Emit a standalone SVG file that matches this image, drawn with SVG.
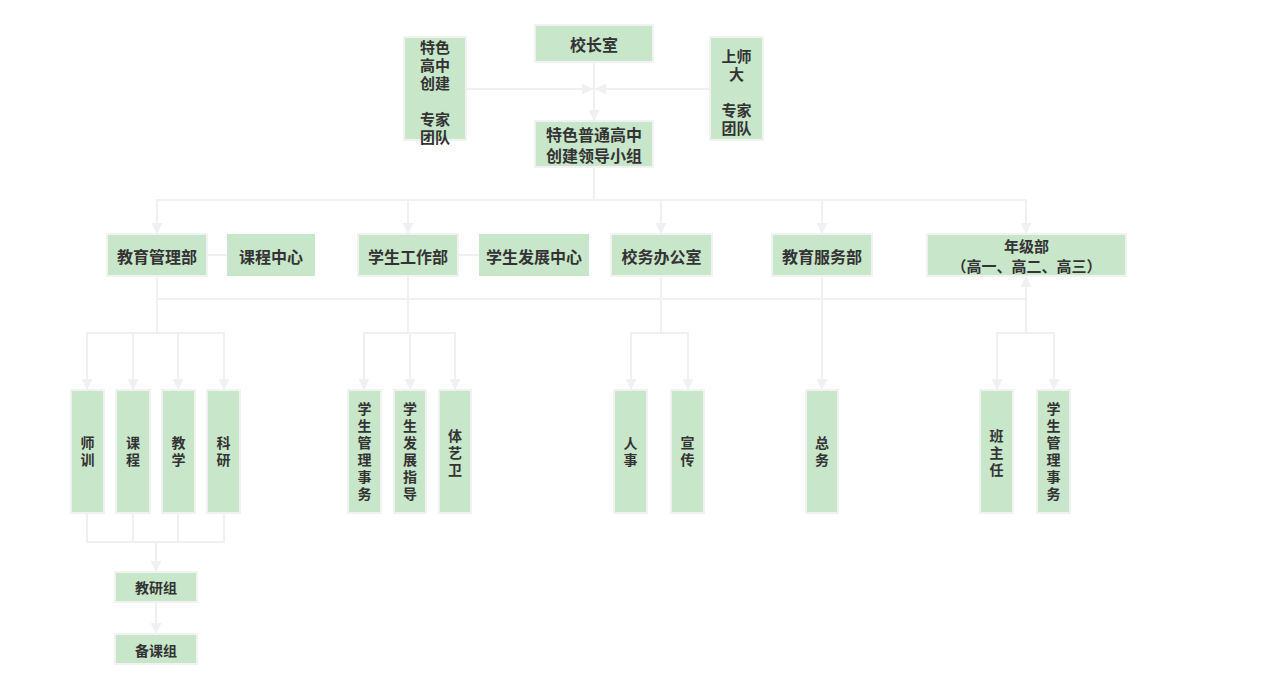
<svg xmlns="http://www.w3.org/2000/svg" width="1288" height="689" viewBox="0 0 1288 689">
<style>
.n{fill:#c8e6c9;stroke:#f2f2f2;stroke-width:2}
.t{font-family:"Noto Sans CJK SC","Noto Sans",sans-serif;font-weight:bold;fill:#333;text-anchor:middle;dominant-baseline:central}
.v{writing-mode:vertical-rl;letter-spacing:3px}
.t16{font-size:16px}
.t15{font-size:15px}
.t14{font-size:14px}
.c{fill:none;stroke:#f0f0f0;stroke-width:2}
</style>
<defs>
<marker id="a" viewBox="0 0 10 10" refX="10" refY="5" markerWidth="5.5" markerHeight="5.5" orient="auto" markerUnits="strokeWidth">
<path d="M0,0 L10,5 L0,10 z" fill="#f0f0f0"/>
</marker>
</defs>
<rect width="1288" height="689" fill="#ffffff"/>
<g id="connectors">
<path class="c" d="M466,89 H593" marker-end="url(#a)"/>
<path class="c" d="M710,89 H595" marker-end="url(#a)"/>
<path class="c" d="M594,62 V121" marker-end="url(#a)"/>
<path class="c" d="M594,167 V200 H157 V234" marker-end="url(#a)"/>
<path class="c" d="M408,200 V234" marker-end="url(#a)"/>
<path class="c" d="M594,200 H661 V234" marker-end="url(#a)"/>
<path class="c" d="M661,200 H822 V234" marker-end="url(#a)"/>
<path class="c" d="M822,200 H1026 V234" marker-end="url(#a)"/>
<path class="c" d="M207,255 H227"/>
<path class="c" d="M458,255 H479"/>
<path class="c" d="M157,299 H1026"/>
<path class="c" d="M1026,333 V276" marker-end="url(#a)"/>
<path class="c" d="M157,276 V333 H87 V390" marker-end="url(#a)"/>
<path class="c" d="M133,333 V390" marker-end="url(#a)"/>
<path class="c" d="M157,333 H178 V390" marker-end="url(#a)"/>
<path class="c" d="M178,333 H224 V390" marker-end="url(#a)"/>
<path class="c" d="M408,276 V333 H364 V390" marker-end="url(#a)"/>
<path class="c" d="M408,333 H410 V390" marker-end="url(#a)"/>
<path class="c" d="M410,333 H455 V390" marker-end="url(#a)"/>
<path class="c" d="M661,276 V333 H631 V390" marker-end="url(#a)"/>
<path class="c" d="M661,333 H688 V390" marker-end="url(#a)"/>
<path class="c" d="M822,276 V390" marker-end="url(#a)"/>
<path class="c" d="M1026,333 H997 V390" marker-end="url(#a)"/>
<path class="c" d="M1026,333 H1054 V390" marker-end="url(#a)"/>
<path class="c" d="M87,513 V542 H224 V513"/>
<path class="c" d="M133,513 V542"/>
<path class="c" d="M178,513 V542"/>
<path class="c" d="M156,542 V572" marker-end="url(#a)"/>
<path class="c" d="M156,602 V634" marker-end="url(#a)"/>
</g>
<g id="n-principal"><rect class="n" x="535" y="25" width="118" height="37"/><text class="t t16" x="594" y="44">校长室</text></g>
<g id="n-expert1"><rect class="n" x="404" y="37" width="62" height="103"/>
<text class="t t15"><tspan x="435" y="46">特色</tspan><tspan x="435" y="64">高中</tspan><tspan x="435" y="82">创建</tspan><tspan x="435" y="118">专家</tspan><tspan x="435" y="136">团队</tspan></text></g>
<g id="n-expert2"><rect class="n" x="710" y="37" width="53" height="103"/>
<text class="t t15"><tspan x="736.5" y="55">上师</tspan><tspan x="736.5" y="73">大</tspan><tspan x="736.5" y="109">专家</tspan><tspan x="736.5" y="127">团队</tspan></text></g>
<g id="n-leader"><rect class="n" x="535" y="121" width="118" height="46"/><text class="t t16"><tspan x="594" y="134">特色普通高中</tspan><tspan x="594" y="155">创建领导小组</tspan></text></g>
<g id="n-jygl"><rect class="n" x="107" y="234" width="100" height="42"/><text class="t t16" x="157" y="256">教育管理部</text></g>
<g id="n-kczx"><rect x="227" y="234" width="88" height="42" fill="#c8e6c9"/><text class="t t16" x="271" y="256">课程中心</text></g>
<g id="n-xsgz"><rect class="n" x="358" y="234" width="100" height="42"/><text class="t t16" x="408" y="256">学生工作部</text></g>
<g id="n-xsfz"><rect x="479" y="234" width="110" height="42" fill="#c8e6c9"/><text class="t t16" x="534" y="256">学生发展中心</text></g>
<g id="n-xwbgs"><rect class="n" x="611" y="234" width="101" height="42"/><text class="t t16" x="661.5" y="256">校务办公室</text></g>
<g id="n-jyfw"><rect class="n" x="772" y="234" width="100" height="42"/><text class="t t16" x="822" y="256">教育服务部</text></g>
<g id="n-njb"><rect class="n" x="927" y="234" width="199" height="42"/><text class="t t15"><tspan x="1026.5" y="245">年级部</tspan><tspan x="1026.5" y="265">（高一、高二、高三）</tspan></text></g>
<g id="n-sx"><rect class="n" x="71" y="390" width="33" height="123"/><text class="t t14 v" x="87.5" y="453">师训</text></g>
<g id="n-kc"><rect class="n" x="116" y="390" width="34" height="123"/><text class="t t14 v" x="133" y="453">课程</text></g>
<g id="n-jx"><rect class="n" x="162" y="390" width="33" height="123"/><text class="t t14 v" x="178.5" y="453">教学</text></g>
<g id="n-ky"><rect class="n" x="207" y="390" width="33" height="123"/><text class="t t14 v" x="223.5" y="453">科研</text></g>
<g id="n-xsglsw1"><rect class="n" x="348" y="390" width="33" height="123"/><text class="t t14 v" x="364.5" y="453">学生管理事务</text></g>
<g id="n-xsfzzd"><rect class="n" x="394" y="390" width="32" height="123"/><text class="t t14 v" x="410" y="453">学生发展指导</text></g>
<g id="n-tyw"><rect class="n" x="439" y="390" width="32" height="123"/><text class="t t14 v" x="455" y="454">体艺卫</text></g>
<g id="n-rs"><rect class="n" x="614" y="390" width="33" height="123"/><text class="t t14 v" x="630.5" y="453">人事</text></g>
<g id="n-xc"><rect class="n" x="671" y="390" width="33" height="123"/><text class="t t14 v" x="687.5" y="453">宣传</text></g>
<g id="n-zw"><rect class="n" x="806" y="390" width="32" height="123"/><text class="t t14 v" x="822" y="453">总务</text></g>
<g id="n-bzr"><rect class="n" x="980" y="390" width="33" height="123"/><text class="t t14 v" x="996.5" y="454">班主任</text></g>
<g id="n-xsglsw2"><rect class="n" x="1037" y="390" width="33" height="123"/><text class="t t14 v" x="1053.5" y="453">学生管理事务</text></g>
<g id="n-jyz"><rect class="n" x="115" y="572" width="82" height="30"/><text class="t t14" x="156" y="587">教研组</text></g>
<g id="n-bkz"><rect class="n" x="115" y="634" width="82" height="30"/><text class="t t14" x="156" y="650">备课组</text></g>
</svg>
